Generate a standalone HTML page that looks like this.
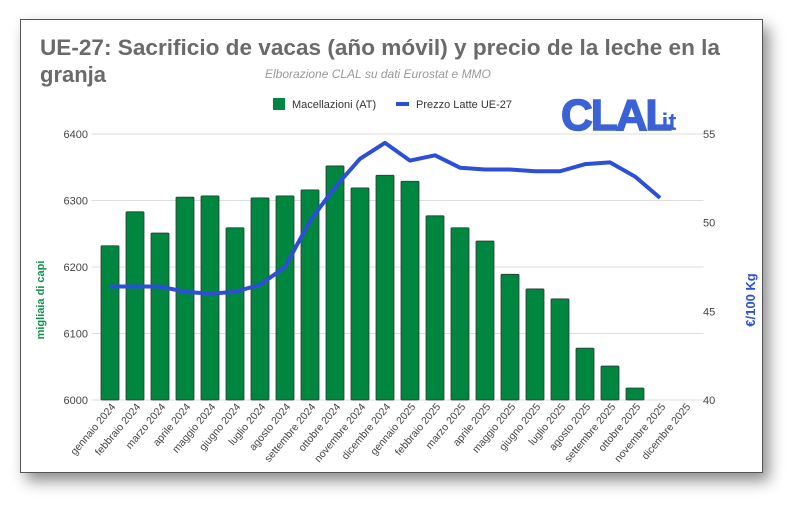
<!DOCTYPE html>
<html><head><meta charset="utf-8"><style>
body{margin:0;width:800px;height:512px;background:#fff;overflow:hidden;font-family:"Liberation Sans",sans-serif;}
svg text{font-family:"Liberation Sans",sans-serif;}
#card{position:absolute;left:20px;top:19px;width:741px;height:452px;background:#fff;border:1px solid #555;box-shadow:6px 8px 14px rgba(0,0,0,0.45);}
</style></head><body>
<div id="card"></div>
<svg id="chart" width="800" height="512" style="position:absolute;left:0;top:0">
<text x="40" y="55" font-size="22" font-weight="bold" fill="#6a6a6a" textLength="680" lengthAdjust="spacingAndGlyphs">UE-27: Sacrificio de vacas (año móvil) y precio de la leche en la</text>
<text x="40" y="82" font-size="22" font-weight="bold" fill="#6a6a6a">granja</text>
<text x="265" y="78" font-size="12" font-style="italic" fill="#999">Elborazione CLAL su dati Eurostat e MMO</text>
<g>
<rect x="273" y="98" width="12" height="12" fill="#00873f"/>
<text x="292" y="108" font-size="11" fill="#333">Macellazioni (AT)</text>
<rect x="396" y="102" width="13" height="4" fill="#2b4fd6"/>
<text x="416" y="108" font-size="11" fill="#333">Prezzo Latte UE-27</text>
</g>
<g>
<text x="561" y="130" style="font-family:'Liberation Sans',sans-serif;font-size:44px;font-weight:bold;letter-spacing:-2px" fill="#3a62d6" stroke="#3a62d6" stroke-width="1.5">CLAL</text>
<text x="655" y="130" style="font-family:'Liberation Sans',sans-serif;font-size:24px;font-weight:bold" fill="#3a62d6">.it</text>
</g>
<g id="grid"></g><g id="bars"></g><g id="line"></g><g id="axes"></g>
<text transform="translate(44,300) rotate(-90)" text-anchor="middle" font-size="11" font-weight="bold" fill="#12924a">migliaia di capi</text>
<text transform="translate(755,300) rotate(-90)" text-anchor="middle" font-size="13" font-weight="bold" fill="#2b4fd6">€/100 Kg</text>
</svg>
<script>
const categories=["gennaio 2024","febbraio 2024","marzo 2024","aprile 2024","maggio 2024","giugno 2024","luglio 2024","agosto 2024","settembre 2024","ottobre 2024","novembre 2024","dicembre 2024","gennaio 2025","febbraio 2025","marzo 2025","aprile 2025","maggio 2025","giugno 2025","luglio 2025","agosto 2025","settembre 2025","ottobre 2025","novembre 2025","dicembre 2025"];
const slaughter=[6232,6283,6251,6305,6307,6259,6304,6307,6316,6352,6319,6338,6329,6277,6259,6239,6189,6167,6152,6078,6051,6018,null,null];
const milkPrice=[46.4,46.4,46.4,46.1,46.0,46.1,46.5,47.5,50.1,52.0,53.6,54.5,53.5,53.8,53.1,53.0,53.0,52.9,52.9,53.3,53.4,52.6,51.4,null];
const leftTicks=[6000,6100,6200,6300,6400];
const rightTicks=[40,45,50,55];
const NS="http://www.w3.org/2000/svg";
const X0=97.5,X1=697.5,Y0=400,Y1=134;
const band=(X1-X0)/categories.length;
const xc=i=>X0+band*(i+0.5);
const yL=v=>Y0-(v-6000)/400*(Y0-Y1);
const yR=v=>Y0-(v-40)/15*(Y0-Y1);
function mk(t,a,p){const e=document.createElementNS(NS,t);for(const k in a)e.setAttribute(k,a[k]);document.getElementById(p).appendChild(e);return e;}
leftTicks.forEach(t=>{
 const g=mk("line",{x1:X0-6,x2:X1+6,y1:yL(t),y2:yL(t),stroke:"#ddd","stroke-width":1},"grid");
 
 
 const l=mk("text",{x:88,y:yL(t)+4,"text-anchor":"end","font-size":11,fill:"#444"},"axes");
 l.textContent=t;
 
 
});
rightTicks.forEach(t=>{
 const l=mk("text",{x:703,y:yR(t)+4,"font-size":11,fill:"#444"},"axes");
 l.textContent=t;
 
 
});
slaughter.forEach((v,i)=>{
 if(v==null)return;
 const b=mk("rect",{x:xc(i)-9,y:yL(v),width:18,height:Y0-yL(v),fill:"#00873f",stroke:"#333","stroke-width":0.8,rx:1},"bars");
 
 
});
const pts=milkPrice.map((v,i)=>v==null?null:xc(i)+","+yR(v)).filter(p=>p);
const pl=mk("polyline",{points:pts.join(" "),fill:"none",stroke:"#2b4fd6","stroke-width":4,"stroke-linejoin":"round"},"line");


categories.forEach((c,i)=>{
 const t=mk("text",{transform:`translate(${xc(i)+6},${407}) rotate(-50)`,"text-anchor":"end","font-size":10.5,fill:"#444"},"axes");
 t.textContent=c;
 
 
});
</script>
</body></html>
